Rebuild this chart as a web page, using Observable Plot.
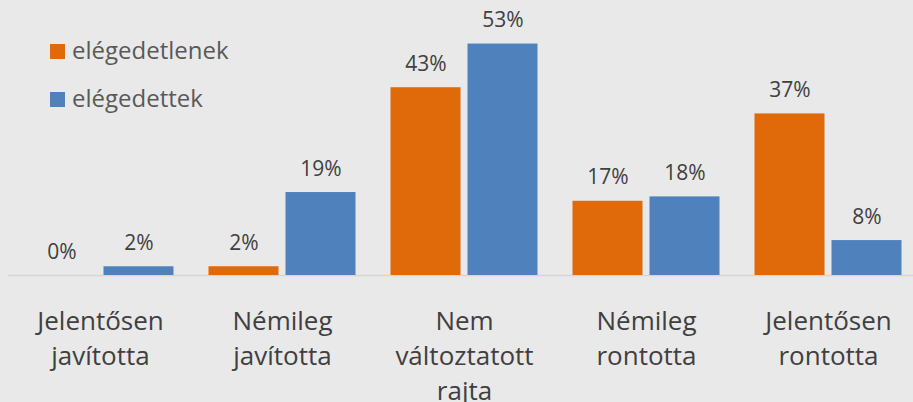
<!DOCTYPE html>
<html>
<head>
<meta charset="utf-8">
<script src="https://cdn.jsdelivr.net/npm/d3@7"></script>
<script src="https://cdn.jsdelivr.net/npm/@observablehq/plot@0.6"></script>
<style>
  html, body { margin: 0; padding: 0; background: #e9e9e9; }
  #wrap { position: relative; width: 913px; height: 402px; overflow: hidden; background: #e9e9e9; font-family: "Open Sans", sans-serif; }
  #chart { position: absolute; left: 0; top: 0; }
  #legend { position: absolute; left: 50px; top: 26px; }
  .lg-row { display: flex; align-items: center; height: 48px; }
  .lg-sw { width: 15px; height: 15px; margin-right: 7px; margin-top: 2px; }
  .lg-lab { font-size: 24px; color: #595959; line-height: 1; }
</style>
</head>
<body>
<div id="wrap">
  <div id="chart"></div>
  <div id="legend"></div>
</div>
<script>
const categories = ["Jelentősen\njavította", "Némileg\njavította", "Nem\nváltoztatott\nrajta", "Némileg\nrontotta", "Jelentősen\nrontotta"];
const series = ["elégedetlenek", "elégedettek"];
const dissatisfied = [0, 2, 43, 17, 37];
const satisfied = [2, 19, 53, 18, 8];
const colors = ["#e0690a", "#4f81bd"];

const rowsD = categories.map((c, i) => ({category: c, series: series[0], value: dissatisfied[i]}));
const rowsS = categories.map((c, i) => ({category: c, series: series[1], value: satisfied[i]}));

const plot = Plot.plot({
  width: 913,
  height: 402,
  marginLeft: 8,
  marginRight: 0,
  marginTop: 13,
  marginBottom: 127,
  style: {fontFamily: "Open Sans", background: "transparent", overflow: "visible"},
  x: {domain: categories, range: [8.5, 918.5], padding: 0, axis: null},
  y: {domain: [0, 60], axis: null},
  marks: [
    Plot.ruleY([0], {stroke: "#d6d6d6", strokeWidth: 1.5}),
    Plot.barY(rowsD, {x: "category", y: "value", fill: colors[0], insetLeft: 17.5, insetRight: 94.5}),
    Plot.barY(rowsS, {x: "category", y: "value", fill: colors[1], insetLeft: 94.5, insetRight: 17.5}),
    Plot.text(rowsD, {x: "category", y: "value", text: d => d.value + "%", dx: -38.5, dy: -17, lineAnchor: "bottom", fontSize: 21, fill: "#404040"}),
    Plot.text(rowsS, {x: "category", y: "value", text: d => d.value + "%", dx: 38.5, dy: -17, lineAnchor: "bottom", fontSize: 21, fill: "#404040"}),
    Plot.text(categories, {x: d => d, y: () => 0, text: d => d, lineAnchor: "top", dy: 30, lineHeight: 1.34, fontSize: 26, fill: "#404040"})
  ]
});
document.getElementById("chart").appendChild(plot);

const legend = document.getElementById("legend");
series.forEach((s, i) => {
  const row = document.createElement("div");
  row.className = "lg-row";
  const sw = document.createElement("div");
  sw.className = "lg-sw";
  sw.style.background = colors[i];
  const lab = document.createElement("div");
  lab.className = "lg-lab";
  lab.textContent = s;
  row.appendChild(sw);
  row.appendChild(lab);
  legend.appendChild(row);
});
</script>
</body>
</html>
